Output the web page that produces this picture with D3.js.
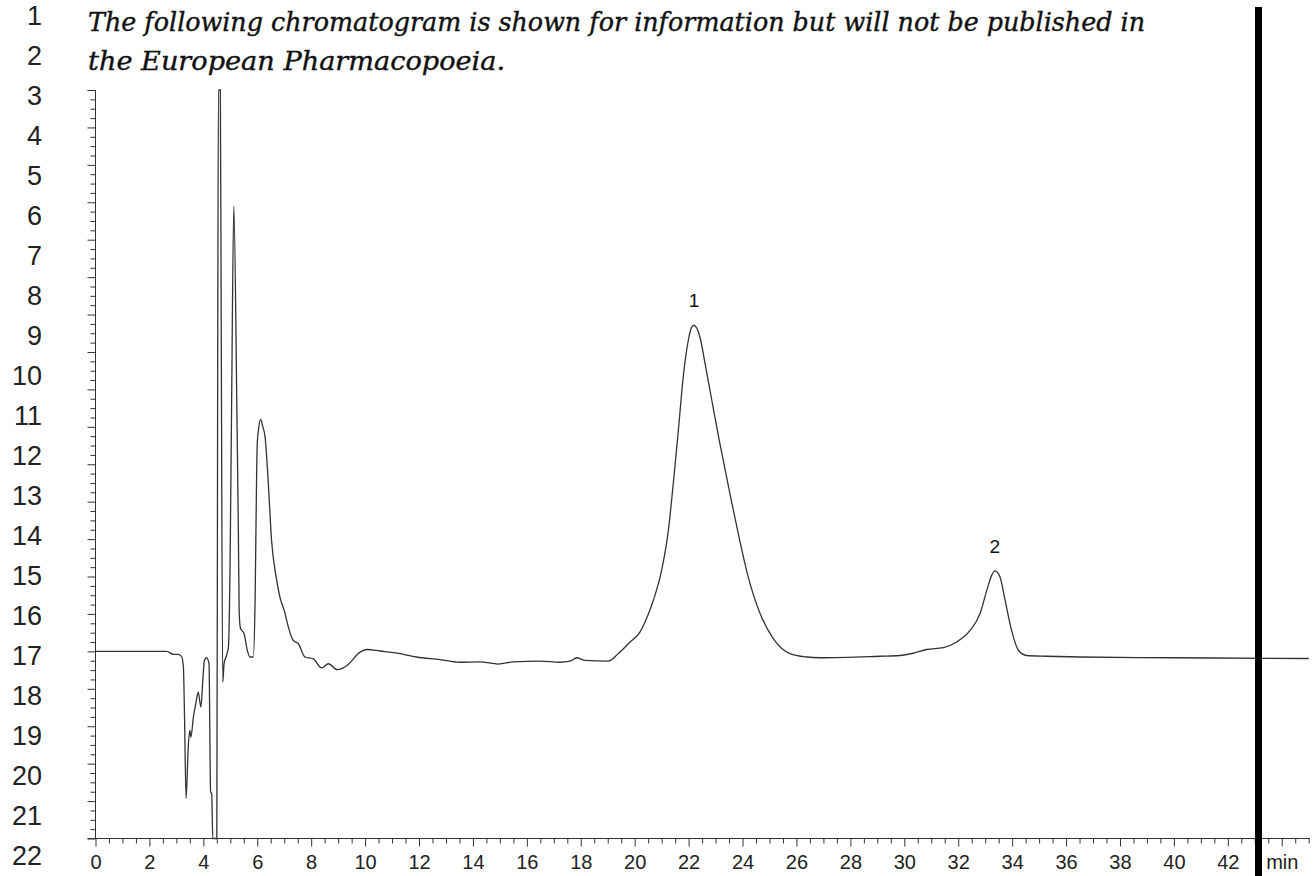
<!DOCTYPE html>
<html>
<head>
<meta charset="utf-8">
<script src="https://cdn.jsdelivr.net/npm/d3@7"></script>
<style>
  html, body { margin: 0; padding: 0; background: #fff; }
  svg { display: block; }
</style>
</head>
<body>
<svg id="chart" width="1314" height="876"></svg>
<script>
// Retention time (min) and detector signal (arbitrary units, baseline ~ 0)
const times = [
    0, 2.0, 2.64, 2.89, 3.07, 3.2, 3.26, 3.3, 3.36, 3.44, 3.5, 3.54, 3.63, 3.73, 3.81, 3.91, 3.98,
    4.04, 4.12, 4.21, 4.27, 4.31, 4.35, 4.40, 4.47, 4.5, 4.53, 4.56, 4.63, 4.66, 4.72, 4.77, 4.84,
    4.93, 4.99, 5.05, 5.13, 5.24, 5.3, 5.33, 5.38, 5.51, 5.63, 5.73, 5.85, 5.92, 5.95, 6.0, 6.05,
    6.13, 6.2, 6.29, 6.41, 6.53, 6.7, 6.84, 7.03, 7.09, 7.34, 7.52, 7.77, 8.08, 8.39, 8.64, 8.97,
    9.34, 9.81, 10.06, 10.55, 11.3, 11.9, 12.78, 13.5, 14.26, 14.94, 15.5, 16.5, 17.23, 17.6, 17.85,
    18.16, 19.02, 19.39, 19.83, 20.2, 20.38, 20.69, 21.0, 21.25, 21.43, 21.62, 21.8, 21.99, 22.1,
    22.2, 22.3, 22.42, 22.61, 22.86, 23.16, 23.53, 23.84, 24.21, 24.65, 25.14, 25.76, 26.38, 26.87,
    29.08, 29.84, 30.33, 30.83, 31.45, 31.94, 32.44, 32.81, 33.06, 33.24, 33.36, 33.55, 33.74, 33.98,
    34.23, 34.54, 35.28, 36.52, 40, 45
];
const signal = [
    0, 0, 0, -0.08, -0.08, -0.15, -0.42, -1.66, -3.93, -2.56, -2.11, -2.29, -1.76, -1.36, -1.09, -1.49, -0.78,
    -0.24, -0.17, -0.33, -3.76, -3.80, -5.0, -6.5, -6.5, -5.0, 6.7, 17, 17, 9.4, -0.82, -0.32, -0.15,
    0.11, 2.25, 6.71, 11.9, 6.71, 3.16, 1.02, 0.61, 0.48, 0.03, -0.15, -0.15, 1.36, 3.16, 5.56, 5.95,
    6.2, 6.02, 5.73, 4.49, 2.97, 1.99, 1.45, 1.02, 0.83, 0.29, 0.21, -0.15, -0.2, -0.44, -0.33, -0.49,
    -0.37, -0.02, 0.05, 0.01, -0.06, -0.15, -0.22, -0.29, -0.28, -0.34, -0.28, -0.26, -0.29, -0.26, -0.17,
    -0.24, -0.26, -0.06, 0.25, 0.52, 0.78, 1.36, 2.17, 3.24, 4.48, 5.91, 7.33, 8.32, 8.64,
    8.72, 8.64, 8.4, 7.69, 6.71, 5.55, 4.22, 3.15, 1.99, 1.01, 0.34, -0.06, -0.15, -0.17,
    -0.13, -0.11, -0.05, 0.05, 0.1, 0.25, 0.56, 1.01, 1.63, 2.03, 2.15, 1.99, 1.36, 0.56,
    0.03, -0.11, -0.13, -0.15, -0.17, -0.19
];

// Peak labels
const peakNames = ['1', '2'];
const peakTimes = [22.2, 33.36];
const peakHeights = [8.72, 2.15];

// Axis ticks
const xTickLabels = ['0', '2', '4', '6', '8', '10', '12', '14', '16', '18', '20', '22',
    '24', '26', '28', '30', '32', '34', '36', '38', '40', '42', 'min'];

const titleLines = [
    'The following chromatogram is shown for information but will not be published in',
    'the European Pharmacopoeia.'
];
const lineNumbers = d3.range(1, 23);

const svg = d3.select('#chart');
const width = +svg.attr('width');
const height = +svg.attr('height');

svg.append('rect')
    .attr('width', width)
    .attr('height', height)
    .attr('fill', '#fff');

// Plot area
const plotLeft = 95.5, plotRight = 1308.7, plotTop = 90, plotBottom = 838.5;
const yMin = -5, yMax = 15;

const x = d3.scaleLinear().domain([0, 45]).range([plotLeft, plotRight]);
const y = d3.scaleLinear().domain([yMin, yMax]).range([plotBottom, plotTop]);

// Line numbers down the left margin
svg.append('g')
    .selectAll('text')
    .data(lineNumbers)
    .join('text')
    .attr('x', 42)
    .attr('y', (d, i) => 16 + i * 40)
    .attr('dy', '0.35em')
    .attr('text-anchor', 'end')
    .attr('font-family', 'Liberation Sans, Arial, sans-serif')
    .attr('font-size', '27px')
    .attr('fill', '#222')
    .text(d => d);

// Italic note above the chart
svg.append('g')
    .selectAll('text')
    .data(titleLines)
    .join('text')
    .attr('x', 88)
    .attr('y', (d, i) => 31 + i * 38.5)
    .attr('font-family', 'DejaVu Serif Condensed, DejaVu Serif, serif')
    .attr('font-style', 'italic')
    .attr('font-size', '26px')
    .attr('fill', '#111')
    .attr('stroke', '#111')
    .attr('stroke-width', 0.35)
    .attr('textLength', (d, i) => i === 0 ? 1057 : 417)
    .attr('lengthAdjust', 'spacingAndGlyphs')
    .text(d => d);

// Y axis: ticks only, no labels
const yAxis = d3.axisLeft(y)
    .tickValues(d3.range(yMin, yMax + 0.001, 1))
    .tickSize(8)
    .tickFormat('');
const gy = svg.append('g')
    .attr('transform', `translate(${plotLeft},0)`)
    .call(yAxis);
gy.select('.domain').attr('d', `M0,${plotTop}V${plotBottom}`);

svg.append('g')
    .attr('transform', `translate(${plotLeft},0)`)
    .call(d3.axisLeft(y)
        .tickValues(d3.range(yMin, yMax, 0.25).filter(v => Math.abs(v - Math.round(v)) > 0.01))
        .tickSize(5)
        .tickFormat(''))
    .select('.domain').remove();

// X axis
const xMajor = d3.range(0, 45, 2);
const xAxis = d3.axisBottom(x)
    .tickValues(xMajor)
    .tickSize(8)
    .tickPadding(8)
    .tickFormat((d, i) => xTickLabels[i]);
const gx = svg.append('g')
    .attr('transform', `translate(0,${plotBottom})`)
    .call(xAxis);
gx.select('.domain').attr('d', `M${plotLeft - 8},0H${x(45) + 1}`);
gx.selectAll('text')
    .attr('font-family', 'Liberation Sans, Arial, sans-serif')
    .attr('font-size', '20px')
    .attr('fill', '#222');

svg.append('g')
    .attr('transform', `translate(0,${plotBottom})`)
    .call(d3.axisBottom(x)
        .tickValues(d3.range(0.5, 45.01, 0.5).filter(v => v % 2 !== 0))
        .tickSize(5)
        .tickFormat(''))
    .select('.domain').remove();

svg.selectAll('.domain, .tick line')
    .attr('stroke', '#333')
    .attr('stroke-width', 1);

// Chromatogram trace (values outside the range are held at the axis limits)
const data = times.map((t, i) => ({ t: t, v: signal[i] }));
const line = d3.line()
    .x(d => x(d.t))
    .y(d => y(Math.max(yMin, Math.min(yMax, d.v))))
    .curve(d3.curveMonotoneX);

svg.append('path')
    .datum(data)
    .attr('d', line)
    .attr('fill', 'none')
    .attr('stroke', '#333')
    .attr('stroke-width', 1.3);

// Peak labels
svg.append('g')
    .selectAll('text')
    .data(peakNames)
    .join('text')
    .attr('x', (d, i) => x(peakTimes[i]))
    .attr('y', (d, i) => y(peakHeights[i]) - 18)
    .attr('text-anchor', 'middle')
    .attr('font-family', 'Liberation Sans, Arial, sans-serif')
    .attr('font-size', '19px')
    .attr('fill', '#111')
    .text(d => d);

// Revision bar in the right margin
svg.append('rect')
    .attr('x', 1255)
    .attr('y', 7)
    .attr('width', 7)
    .attr('height', height - 7)
    .attr('fill', '#000');
</script>
</body>
</html>
